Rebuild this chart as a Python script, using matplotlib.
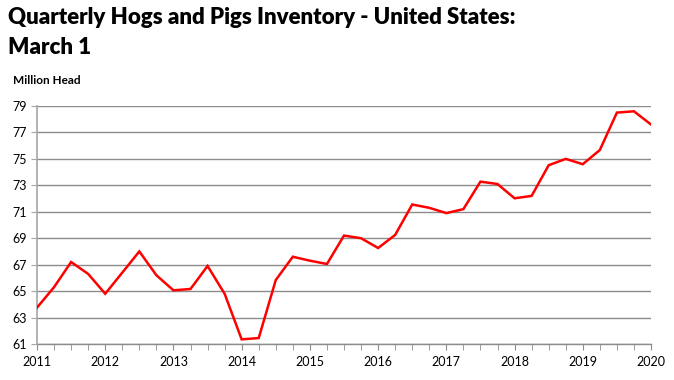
import matplotlib
matplotlib.use("Agg")
import matplotlib.pyplot as plt
import numpy as np

years = list(range(2011, 2021))
values = [63.75, 65.3, 67.2, 66.3, 64.8, 66.4, 68.0, 66.2,
          65.06, 65.16, 66.9, 64.8, 61.35, 61.45, 65.84, 67.6,
          67.3, 67.05, 69.2, 69.0, 68.26, 69.25, 71.55, 71.3,
          70.9, 71.2, 73.28, 73.1, 72.02, 72.2, 74.52, 75.0,
          74.6, 75.67, 78.5, 78.6, 77.6]
yticks = list(range(61, 80, 2))

plt.rcParams['font.family'] = ['Lato', 'DejaVu Sans']

fig = plt.figure(figsize=(6.74, 3.80), dpi=100)
ax = fig.add_axes([37/674, 1-344/380, (651-37)/674, (344-106)/380])

x = 2011 + np.arange(len(values)) / 4.0
ax.plot(x, values, color='#ff0000', lw=1.8, solid_joinstyle='miter', zorder=3)

ax.set_xlim(2011, 2020)
ax.set_ylim(61, 79)
ax.set_yticks(yticks)
ax.set_xticks(years)
ax.set_xticks(2011 + np.arange(37) / 4.0, minor=True)
ax.set_xticklabels([str(y) for y in years])
ax.grid(axis='y', color='#8c8c8c', lw=1.0, zorder=1)
for s in ['top', 'right', 'bottom']:
    ax.spines[s].set_visible(False)
ax.spines['left'].set_color('#a6a6a6')
ax.spines['left'].set_linewidth(1.2)
ax.tick_params(axis='y', length=4, color='#a6a6a6', labelsize=9, pad=3)
ax.tick_params(axis='x', which='both', length=4, color='#8c8c8c', labelsize=9, pad=5)
ax.tick_params(axis='x', which='minor', length=4)
ax.axhline(61, color='#8c8c8c', lw=1.0, zorder=1, clip_on=False)

fig.text(8/674, 1-18/380, "Quarterly Hogs and Pigs Inventory - United States:",
         fontsize=16, fontweight='heavy', va='center', ha='left')
fig.text(8/674, 1-47/380, "March 1", fontsize=16, fontweight='heavy', va='center', ha='left')
fig.text(13/674, 1-80/380, "Million Head", fontsize=8.5, fontweight='bold', va='center', ha='left')

fig.savefig("out.png", dpi=100)
